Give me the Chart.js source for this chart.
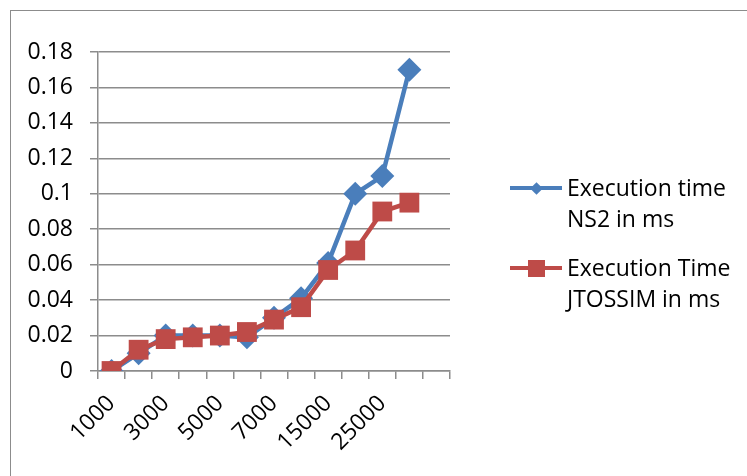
<!DOCTYPE html>
<html>
<head>
<meta charset="utf-8">
<script src="https://cdn.jsdelivr.net/npm/chart.js@4.4.1/dist/chart.umd.min.js"></script>
<style>
  body { margin: 0; background: #fff; }
  #frame { position: absolute; left: 10px; top: 10px; width: 800px; height: 500px; border: 1px solid #8c8c8c; }
  #wrap { position: absolute; left: 0; top: 0; width: 747px; height: 476px; }
  .legend { position: absolute; left: 0; top: 0; font-family: "Open Sans", sans-serif; font-size: 23px; color: #000; }
  .item { position: absolute; left: 0; line-height: 31px; white-space: nowrap; }
  .line { position: absolute; height: 4px; width: 52px; }
  .mark { position: absolute; }
</style>
</head>
<body>
<div id="frame"></div>
<div id="wrap"><canvas id="lineChart"></canvas></div>
<div class="legend" id="legend"></div>
<script>
const categories = ['1000', '2000', '3000', '4000', '5000', '6000', '7000', '10000', '15000', '20000', '25000', '30000', ''];
const ns2Values = [0, 0.01, 0.02, 0.02, 0.02, 0.019, 0.03, 0.041, 0.061, 0.1, 0.11, 0.17];
const jtossimValues = [0, 0.012, 0.018, 0.019, 0.02, 0.022, 0.029, 0.036, 0.057, 0.068, 0.09, 0.095];
const seriesNames = [['Execution time', 'NS2 in ms'], ['Execution Time', 'JTOSSIM in ms']];
const yTicks = [0, 0.02, 0.04, 0.06, 0.08, 0.1, 0.12, 0.14, 0.16, 0.18];

const blue = '#4a7ebb';
const red = '#be4b48';
const gridColor = '#8c8c8c';
const font = { family: '"Open Sans", sans-serif', size: 23 };

const lineChartData = {
    labels: categories,
    datasets: [
        {
            label: seriesNames[0].join(' '),
            data: ns2Values,
            order: 2,
            borderColor: blue,
            backgroundColor: blue,
            borderWidth: 4.5,
            pointStyle: 'rectRot',
            pointRadius: 12,
            pointBorderWidth: 0,
            tension: 0
        },
        {
            label: seriesNames[1].join(' '),
            data: jtossimValues,
            order: 1,
            borderColor: red,
            backgroundColor: red,
            borderWidth: 4.5,
            pointStyle: 'rect',
            pointRadius: 14,
            pointBorderWidth: 0,
            tension: 0
        }
    ]
};

const lineChartConfig = {
    type: 'line',
    data: lineChartData,
    options: {
        responsive: true,
        maintainAspectRatio: false,
        animation: false,
        layout: {
            padding: {
                top: 52,
                bottom: 0,
                left: 0,
                right: 297
            }
        },
        scales: {
            x: {
                offset: true,
                grid: {
                    offset: true,
                    drawOnChartArea: false,
                    color: gridColor,
                    lineWidth: 1.5,
                    tickLength: 8
                },
                border: { color: gridColor, width: 1.5 },
                ticks: {
                    autoSkip: false,
                    minRotation: 45,
                    maxRotation: 45,
                    padding: 11,
                    color: '#000',
                    font: font,
                    callback: (v, i) => (i % 2 === 0 ? categories[i] : '')
                },
                afterFit: (scale) => { scale.height = 105; }
            },
            y: {
                min: 0,
                max: 0.18,
                afterBuildTicks: (scale) => { scale.ticks = yTicks.map(v => ({ value: v })); },
                grid: {
                    color: gridColor,
                    lineWidth: 1.5,
                    tickLength: 8
                },
                border: { color: gridColor, width: 1.5 },
                ticks: {
                    padding: 17,
                    color: '#000',
                    font: font,
                    callback: (v) => String(+v.toFixed(2))
                },
                afterFit: (scale) => { scale.width = 98; }
            }
        },
        plugins: {
            legend: {
                display: false
            },
            tooltip: {
                enabled: false
            }
        }
    }
};

const lineChart = new Chart(document.getElementById('lineChart'), lineChartConfig);

// legend drawn as html so the names can wrap on two lines like the original
const legendEl = document.getElementById('legend');
const legendRows = [
    { top: 172, color: blue, shape: 'diamond' },
    { top: 252, color: red, shape: 'square' }
];
legendRows.forEach((row, i) => {
    const line = document.createElement('div');
    line.className = 'line';
    line.style.background = row.color;
    line.style.left = '510px';
    line.style.top = (row.top + 14) + 'px';
    legendEl.appendChild(line);

    const mark = document.createElement('div');
    mark.className = 'mark';
    mark.style.background = row.color;
    if (row.shape === 'diamond') {
        mark.style.width = '9px';
        mark.style.height = '9px';
        mark.style.left = (536 - 4.5) + 'px';
        mark.style.top = (row.top + 16 - 4.5) + 'px';
        mark.style.transform = 'rotate(45deg)';
    } else {
        mark.style.width = '17px';
        mark.style.height = '17px';
        mark.style.left = (536 - 8.5) + 'px';
        mark.style.top = (row.top + 16 - 8.5) + 'px';
    }
    legendEl.appendChild(mark);

    const text = document.createElement('div');
    text.className = 'item';
    text.style.left = '567px';
    text.style.top = row.top + 'px';
    text.innerHTML = seriesNames[i].join('<br>');
    legendEl.appendChild(text);
});
</script>
</body>
</html>
